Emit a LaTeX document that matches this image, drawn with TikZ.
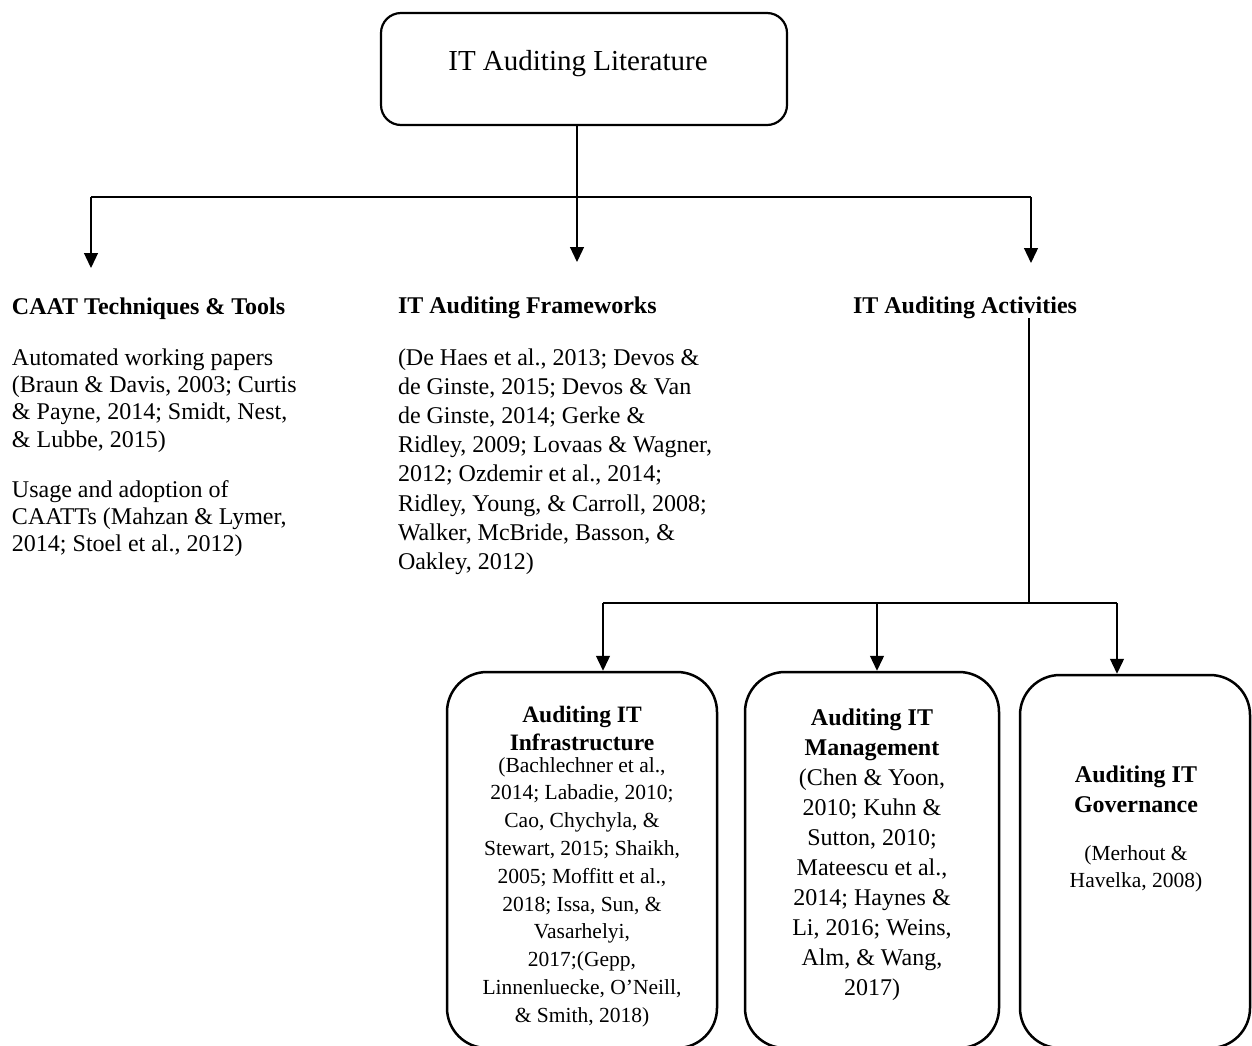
\documentclass[tikz,border=0pt]{standalone}
\usepackage{fontspec}
\setmainfont{Liberation Serif}
\usetikzlibrary{arrows.meta}
\begin{document}
\begin{tikzpicture}[x=1pt,y=-1pt,
  conn/.style={line width=1.3pt},
  arr/.style={conn,-{Triangle[width=14pt,length=15pt]}},
  titlebox/.style={draw,line width=2.2pt,rounded corners=20pt,inner sep=0pt},
  panel/.style={draw,line width=2.5pt,rounded corners=40pt,inner sep=0pt},
  txt/.style={inner sep=0pt,outer sep=0pt},
  head/.style={txt,font=\fontsize{24}{28}\selectfont\bfseries},
  body/.style={txt,align=left,font=\fontsize{24}{27.4}\selectfont},
  fwbody/.style={txt,align=left,font=\fontsize{24}{29.2}\selectfont},
]
\useasboundingbox (0,0) rectangle (1252,1045);

% root of the tree
\node[titlebox,minimum width=406pt,minimum height=112pt] (lit) at (584,69) {};
\node[txt,anchor=base,font=\fontsize{29}{34}\selectfont] (litT) at (578,70) {IT Auditing Literature};

% upper distribution bus
\coordinate (busM) at (577,197);
\coordinate (busL) at (91,197);
\coordinate (busR) at (1031,197);
\coordinate (tipL) at (91,268);
\coordinate (tipM) at (577,262);
\coordinate (tipR) at (1031,263);
\draw[conn] (busM |- lit.south) -- (busM);
\draw[conn] (busL) -- (busR);
\draw[arr] (busL) -- (tipL);
\draw[arr] (busM) -- (tipM);
\draw[arr] (busR) -- (tipR);

% first level categories (multi-line texts are placed by their last baseline)
\node[head,anchor=base west] (caat) at (12,314) {CAAT Techniques \& Tools};
\node[body,anchor=base west] (caatA) at (12,447.2)
  {Automated working papers\\(Braun \& Davis, 2003; Curtis\\\& Payne, 2014; Smidt, Nest,\\\& Lubbe, 2015)};
\node[body,anchor=base west] (caatB) at (12,551.8)
  {Usage and adoption of\\CAATTs (Mahzan \& Lymer,\\2014; Stoel et al., 2012)};

\node[head,anchor=base west] (fw) at (398,313) {IT Auditing Frameworks};
\node[fwbody,anchor=base west] (fwA) at (398,569.4)
  {(De Haes et al., 2013; Devos \&\\de Ginste, 2015; Devos \& Van\\de Ginste, 2014; Gerke \&\\Ridley, 2009; Lovaas \& Wagner,\\2012; Ozdemir et al., 2014;\\Ridley, Young, \& Carroll, 2008;\\Walker, McBride, Basson, \&\\Oakley, 2012)};

\node[head,anchor=base west] (act) at (853,313) {IT Auditing Activities};

% lower distribution bus
\coordinate (actJ) at (1029,603);
\coordinate (bus2L) at (603,603);
\coordinate (bus2M) at (877,603);
\coordinate (bus2R) at (1117,603);
\draw[conn] (actJ |- act.south) -- (actJ);
\draw[conn] (bus2L) -- (bus2R);

% activity panels
\node[panel,minimum width=270pt,minimum height=376pt] (infra) at (582,860) {};
\node[panel,minimum width=254pt,minimum height=376pt] (mgmt) at (872,860) {};
\node[panel,minimum width=230pt,minimum height=373pt] (gov) at (1135,861.5) {};

\draw[arr] (bus2L) -- (bus2L |- infra.north);
\draw[arr] (bus2M) -- (bus2M |- mgmt.north);
\draw[arr] (bus2R) -- (bus2R |- gov.north);

\node[txt,anchor=base,align=center,font=\fontsize{23.5}{28}\selectfont\bfseries] (infraH) at (582,750)
  {Auditing IT\\Infrastructure};
\node[txt,anchor=base,align=center,font=\fontsize{21.5}{27.8}\selectfont] (infraB) at (582,1022.2)
  {(Bachlechner et al.,\\2014; Labadie, 2010;\\Cao, Chychyla, \&\\Stewart, 2015; Shaikh,\\2005; Moffitt et al.,\\2018; Issa, Sun, \&\\Vasarhelyi,\\2017;(Gepp,\\Linnenluecke, O’Neill,\\\& Smith, 2018)};

\node[txt,anchor=base,align=center,font=\fontsize{24}{30}\selectfont\bfseries] (mgmtH) at (872,755)
  {Auditing IT\\Management};
\node[txt,anchor=base,align=center,font=\fontsize{24}{30}\selectfont] (mgmtB) at (872,995)
  {(Chen \& Yoon,\\2010; Kuhn \&\\Sutton, 2010;\\Mateescu et al.,\\2014; Haynes \&\\Li, 2016; Weins,\\Alm, \& Wang,\\2017)};

\node[txt,anchor=base,align=center,font=\fontsize{24}{30}\selectfont\bfseries] (govH) at (1136,812)
  {Auditing IT\\Governance};
\node[txt,anchor=base,align=center,font=\fontsize{21.5}{27}\selectfont] (govB) at (1136,887)
  {(Merhout \&\\Havelka, 2008)};
\end{tikzpicture}
\end{document}
